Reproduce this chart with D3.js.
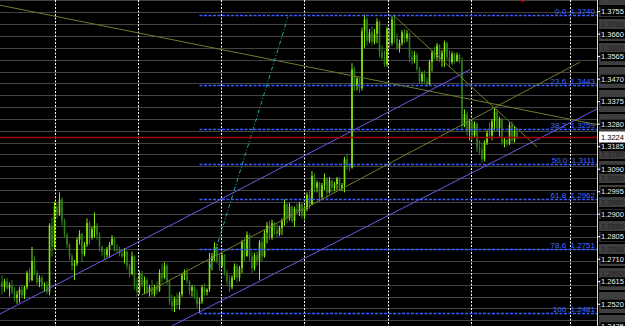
<!DOCTYPE html>
<html>
<head>
<meta charset="utf-8">
<script src="https://cdn.jsdelivr.net/npm/d3@7"></script>
<style>
html, body { margin: 0; padding: 0; background: #000; }
svg { display: block; }
</style>
</head>
<body>
<svg id="chart" width="625" height="326"></svg>
<script>
/*jslint browser: true*/

// hourly bars: [open, high, low, close]
var bars = [
    [1.2610, 1.2640, 1.2560, 1.2590], [1.2590, 1.2625, 1.2570, 1.2615], [1.2615, 1.2630, 1.2580, 1.2585],
    [1.2585, 1.2610, 1.2550, 1.2600], [1.2600, 1.2620, 1.2560, 1.2570], [1.2570, 1.2590, 1.2530, 1.2545],
    [1.2545, 1.2575, 1.2520, 1.2560], [1.2560, 1.2590, 1.2525, 1.2580], [1.2580, 1.2600, 1.2545, 1.2555],
    [1.2555, 1.2595, 1.2540, 1.2590], // 10
    [1.2590, 1.2660, 1.2580, 1.2650], [1.2650, 1.2670, 1.2610, 1.2620], [1.2620, 1.2760, 1.2615, 1.2700],
    [1.2700, 1.2720, 1.2640, 1.2650], [1.2650, 1.2660, 1.2600, 1.2610], [1.2610, 1.2640, 1.2590, 1.2630],
    [1.2630, 1.2640, 1.2580, 1.2595], [1.2595, 1.2610, 1.2570, 1.2600], [1.2600, 1.2615, 1.2560, 1.2570],
    [1.2570, 1.2860, 1.2555, 1.2850], // 20
    [1.2850, 1.2885, 1.2720, 1.2760], [1.2760, 1.2950, 1.2750, 1.2930], [1.2930, 1.2945, 1.2880, 1.2900],
    [1.2900, 1.2990, 1.2890, 1.2960], [1.2960, 1.2970, 1.2850, 1.2870], [1.2870, 1.2880, 1.2800, 1.2810],
    [1.2810, 1.2820, 1.2755, 1.2770], [1.2770, 1.2775, 1.2705, 1.2720], [1.2720, 1.2730, 1.2660, 1.2680],
    [1.2680, 1.2705, 1.2620, 1.2690], // 30
    [1.2690, 1.2800, 1.2680, 1.2790], [1.2790, 1.2830, 1.2770, 1.2815], [1.2815, 1.2820, 1.2695, 1.2730],
    [1.2730, 1.2780, 1.2720, 1.2770], [1.2770, 1.2880, 1.2760, 1.2860], [1.2860, 1.2870, 1.2770, 1.2800],
    [1.2800, 1.2845, 1.2790, 1.2835], [1.2835, 1.2905, 1.2800, 1.2850], [1.2850, 1.2860, 1.2790, 1.2810],
    [1.2810, 1.2820, 1.2740, 1.2760], // 40
    [1.2760, 1.2765, 1.2720, 1.2740], [1.2740, 1.2750, 1.2705, 1.2725], [1.2725, 1.2760, 1.2715, 1.2750],
    [1.2750, 1.2780, 1.2715, 1.2770], [1.2770, 1.2810, 1.2765, 1.2795], [1.2795, 1.2800, 1.2740, 1.2750],
    [1.2750, 1.2770, 1.2735, 1.2745], [1.2745, 1.2760, 1.2720, 1.2730], [1.2730, 1.2745, 1.2715, 1.2720],
    [1.2720, 1.2755, 1.2690, 1.2740], // 50
    [1.2740, 1.2745, 1.2665, 1.2680], [1.2680, 1.2690, 1.2630, 1.2645], [1.2645, 1.2740, 1.2640, 1.2720],
    [1.2720, 1.2725, 1.2580, 1.2600], [1.2600, 1.2630, 1.2550, 1.2570], [1.2570, 1.2660, 1.2560, 1.2650],
    [1.2650, 1.2660, 1.2590, 1.2600], [1.2600, 1.2635, 1.2560, 1.2620], [1.2620, 1.2630, 1.2560, 1.2570],
    [1.2570, 1.2600, 1.2550, 1.2590], // 60
    [1.2590, 1.2620, 1.2545, 1.2560], [1.2560, 1.2600, 1.2550, 1.2590], [1.2590, 1.2615, 1.2560, 1.2575],
    [1.2575, 1.2665, 1.2570, 1.2650], [1.2650, 1.2690, 1.2610, 1.2630], [1.2630, 1.2695, 1.2625, 1.2680],
    [1.2680, 1.2690, 1.2600, 1.2615], [1.2615, 1.2620, 1.2515, 1.2530], [1.2530, 1.2560, 1.2490, 1.2510],
    [1.2510, 1.2550, 1.2485, 1.2540], // 70
    [1.2540, 1.2565, 1.2500, 1.2515], [1.2515, 1.2570, 1.2495, 1.2560], [1.2560, 1.2650, 1.2550, 1.2640],
    [1.2640, 1.2665, 1.2620, 1.2655], [1.2655, 1.2670, 1.2605, 1.2615], [1.2615, 1.2620, 1.2560, 1.2575],
    [1.2575, 1.2600, 1.2550, 1.2590], [1.2590, 1.2595, 1.2540, 1.2550], [1.2550, 1.2580, 1.2500, 1.2520],
    [1.2520, 1.2545, 1.2481, 1.2530], // 80
    [1.2530, 1.2600, 1.2520, 1.2590], [1.2590, 1.2605, 1.2555, 1.2570], [1.2570, 1.2585, 1.2555, 1.2580],
    [1.2580, 1.2735, 1.2570, 1.2700], [1.2700, 1.2735, 1.2660, 1.2720], [1.2720, 1.2780, 1.2700, 1.2760],
    [1.2760, 1.2775, 1.2690, 1.2700], [1.2700, 1.2730, 1.2660, 1.2680], [1.2680, 1.2735, 1.2670, 1.2725],
    [1.2725, 1.2730, 1.2640, 1.2650], // 90
    [1.2650, 1.2665, 1.2600, 1.2615], [1.2615, 1.2640, 1.2570, 1.2590], [1.2590, 1.2640, 1.2580, 1.2630],
    [1.2630, 1.2690, 1.2620, 1.2680], [1.2680, 1.2690, 1.2610, 1.2630], [1.2630, 1.2680, 1.2615, 1.2670],
    [1.2670, 1.2790, 1.2650, 1.2780], [1.2780, 1.2800, 1.2700, 1.2720], [1.2720, 1.2825, 1.2720, 1.2810],
    [1.2810, 1.2815, 1.2700, 1.2720], // 100
    [1.2720, 1.2740, 1.2650, 1.2670], [1.2670, 1.2735, 1.2660, 1.2725], [1.2725, 1.2740, 1.2680, 1.2700],
    [1.2700, 1.2790, 1.2620, 1.2780], [1.2780, 1.2800, 1.2700, 1.2720], [1.2720, 1.2830, 1.2715, 1.2820],
    [1.2820, 1.2865, 1.2775, 1.2850], [1.2850, 1.2870, 1.2790, 1.2800], [1.2800, 1.2875, 1.2790, 1.2860],
    [1.2860, 1.2865, 1.2810, 1.2830], // 110
    [1.2830, 1.2855, 1.2800, 1.2815], [1.2815, 1.2850, 1.2805, 1.2840], [1.2840, 1.2880, 1.2810, 1.2870],
    [1.2870, 1.2960, 1.2850, 1.2940], [1.2940, 1.2945, 1.2860, 1.2880], [1.2880, 1.2945, 1.2870, 1.2930],
    [1.2930, 1.2935, 1.2860, 1.2870], [1.2870, 1.2930, 1.2845, 1.2920], [1.2920, 1.2945, 1.2900, 1.2910],
    [1.2910, 1.2950, 1.2890, 1.2940], // 120
    [1.2940, 1.2945, 1.2880, 1.2890], [1.2890, 1.2935, 1.2875, 1.2920], [1.2920, 1.2990, 1.2910, 1.2980],
    [1.2980, 1.3000, 1.2920, 1.2940], [1.2940, 1.3080, 1.2935, 1.3060], [1.3060, 1.3070, 1.2990, 1.3010],
    [1.3010, 1.3040, 1.2990, 1.3030], [1.3030, 1.3035, 1.2950, 1.2970], [1.2970, 1.3030, 1.2960, 1.3020],
    [1.3020, 1.3070, 1.3000, 1.3050], // 130
    [1.3050, 1.3055, 1.2960, 1.2990], [1.2990, 1.3055, 1.2985, 1.3040], [1.3040, 1.3045, 1.2990, 1.3010],
    [1.3010, 1.3035, 1.2995, 1.3025], [1.3025, 1.3055, 1.3000, 1.3050], [1.3050, 1.3055, 1.2995, 1.3010],
    [1.3010, 1.3030, 1.2995, 1.3020], [1.3020, 1.3140, 1.2990, 1.3130], [1.3130, 1.3155, 1.3085, 1.3100],
    [1.3100, 1.3110, 1.3080, 1.3095], // 140
    [1.3095, 1.3535, 1.3090, 1.3510], [1.3510, 1.3520, 1.3420, 1.3440], [1.3440, 1.3480, 1.3420, 1.3470],
    [1.3470, 1.3475, 1.3410, 1.3430], [1.3430, 1.3685, 1.3420, 1.3670], [1.3670, 1.3740, 1.3600, 1.3720],
    [1.3720, 1.3730, 1.3610, 1.3630], [1.3630, 1.3680, 1.3620, 1.3665], [1.3665, 1.3690, 1.3610, 1.3625],
    [1.3625, 1.3680, 1.3615, 1.3660], // 150
    [1.3660, 1.3725, 1.3620, 1.3710], [1.3710, 1.3715, 1.3560, 1.3580], [1.3580, 1.3610, 1.3550, 1.3560],
    [1.3560, 1.3590, 1.3520, 1.3530], [1.3530, 1.3690, 1.3520, 1.3680], [1.3680, 1.3685, 1.3600, 1.3620],
    [1.3620, 1.3735, 1.3610, 1.3720], [1.3720, 1.3740, 1.3620, 1.3640], [1.3640, 1.3660, 1.3590, 1.3600],
    [1.3600, 1.3635, 1.3580, 1.3620], // 160
    [1.3620, 1.3675, 1.3610, 1.3665], [1.3665, 1.3680, 1.3620, 1.3640], [1.3640, 1.3675, 1.3625, 1.3660],
    [1.3660, 1.3665, 1.3540, 1.3560], [1.3560, 1.3590, 1.3530, 1.3550], [1.3550, 1.3585, 1.3535, 1.3570],
    [1.3570, 1.3580, 1.3500, 1.3510], [1.3510, 1.3520, 1.3450, 1.3460], [1.3460, 1.3500, 1.3450, 1.3490],
    [1.3490, 1.3505, 1.3450, 1.3460], // 170
    [1.3460, 1.3475, 1.3435, 1.3445], [1.3445, 1.3550, 1.3440, 1.3540], [1.3540, 1.3590, 1.3500, 1.3580],
    [1.3580, 1.3605, 1.3550, 1.3560], [1.3560, 1.3620, 1.3545, 1.3610], [1.3610, 1.3615, 1.3540, 1.3550],
    [1.3550, 1.3590, 1.3520, 1.3580], [1.3580, 1.3630, 1.3520, 1.3620], [1.3620, 1.3625, 1.3550, 1.3560],
    [1.3560, 1.3590, 1.3520, 1.3540], // 180
    [1.3540, 1.3585, 1.3530, 1.3575], [1.3575, 1.3580, 1.3535, 1.3545], [1.3545, 1.3580, 1.3540, 1.3570],
    [1.3570, 1.3575, 1.3535, 1.3545], [1.3545, 1.3560, 1.3250, 1.3270], [1.3270, 1.3340, 1.3265, 1.3320],
    [1.3320, 1.3330, 1.3230, 1.3250], [1.3250, 1.3300, 1.3210, 1.3290], [1.3290, 1.3295, 1.3210, 1.3230],
    [1.3230, 1.3290, 1.3220, 1.3280], // 190
    [1.3280, 1.3285, 1.3160, 1.3180], [1.3180, 1.3210, 1.3150, 1.3170], [1.3170, 1.3200, 1.3115, 1.3130],
    [1.3130, 1.3210, 1.3120, 1.3200], [1.3200, 1.3255, 1.3190, 1.3240], [1.3240, 1.3285, 1.3220, 1.3230],
    [1.3230, 1.3300, 1.3210, 1.3290], [1.3290, 1.3345, 1.3250, 1.3330], [1.3330, 1.3340, 1.3245, 1.3260],
    [1.3260, 1.3310, 1.3225, 1.3300], // 200
    [1.3300, 1.3305, 1.3190, 1.3200], [1.3200, 1.3220, 1.3180, 1.3210], [1.3210, 1.3215, 1.3185, 1.3195],
    [1.3195, 1.3285, 1.3190, 1.3275], [1.3275, 1.3290, 1.3200, 1.3210], [1.3210, 1.3270, 1.3200, 1.3250],
    [1.3250, 1.3255, 1.3215, 1.3224]
];

var priceTicks = [1.3755, 1.3660, 1.3565, 1.3470, 1.3375, 1.3280, 1.3185, 1.3090,
                  1.2995, 1.2900, 1.2805, 1.2710, 1.2615, 1.2520, 1.2425];

var gridLevels = [1.3800, 1.3750, 1.3700, 1.3650, 1.3600, 1.3550, 1.3500, 1.3450, 1.3400, 1.3350,
                  1.3300, 1.3250, 1.3200, 1.3150, 1.3100, 1.3050, 1.3000, 1.2950, 1.2900, 1.2850,
                  1.2800, 1.2750, 1.2700, 1.2650, 1.2600, 1.2550, 1.2500, 1.2450];

var fibRatios = ['0.0', '23.6', '38.2', '50.0', '61.8', '78.6', '100'];
var fibPrices = [1.3740, 1.3443, 1.3259, 1.3111, 1.2962, 1.2751, 1.2481];
var fibStartBar = 79;

// vertical period separators, in bar units
var separatorBars = [21.2, 54.4, 87.6, 120.8, 154.4, 187.6, 227.2];

var lastPrice = 1.3224;

// drawn objects: [bar1, price1, bar2, price2]
var channelLines = [
    [-0.8, 1.2477, 187.2, 1.3508],
    [67.9, 1.2426, 238.0, 1.3342]
];
var oliveLines = [
    [-0.8, 1.3780, 238.0, 1.3276],
    [55.9, 1.2557, 231.2, 1.3540],
    [156.4, 1.3739, 214.0, 1.3182]
];
var tealLines = [
    [83.2, 1.2671, 114.4, 1.3730]
];

(function (d3) {
    'use strict';

    var W = 625, H = 326, plotRight = 597,
        bullColor = '#86e80a', bearColor = '#2f7d1c',
        fontFamily = '"Liberation Sans", Arial, sans-serif',
        fmt = d3.format('.4f');

    var x = d3.scaleLinear().domain([0, 206]).range([2, 517]);
    var y = d3.scaleLinear().domain([1.24261, 1.38020]).range([H, 0]);

    function py(p) { return Math.round(y(p)) + 0.5; }

    var svg = d3.select('#chart');
    svg.append('rect').attr('width', W).attr('height', H).attr('fill', '#000');

    svg.append('defs').append('clipPath').attr('id', 'plotclip')
        .append('rect').attr('width', plotRight).attr('height', H);

    var plot = svg.append('g').attr('clip-path', 'url(#plotclip)');

    // grey horizontal lines
    plot.selectAll('.grid')
        .data(gridLevels).enter()
      .append('line')
        .attr('class', 'grid')
        .attr('x1', 0).attr('x2', plotRight)
        .attr('y1', py).attr('y2', py)
        .style('stroke', '#444')
        .style('stroke-width', 1);

    // period separators
    plot.selectAll('.sep')
        .data(separatorBars).enter()
      .append('line')
        .attr('class', 'sep')
        .attr('x1', function (d) { return Math.round(x(d)) + 0.5; })
        .attr('x2', function (d) { return Math.round(x(d)) + 0.5; })
        .attr('y1', 0).attr('y2', H)
        .style('stroke', '#fff')
        .style('stroke-dasharray', '2,1.5');

    // candles
    var candle = plot.selectAll('.candle')
        .data(bars).enter()
      .append('g')
        .attr('class', 'candle');
    candle.append('line')
        .attr('x1', function (d, i) { return x(i); })
        .attr('x2', function (d, i) { return x(i); })
        .attr('y1', function (d) { return y(d[1]); })
        .attr('y2', function (d) { return y(d[2]); })
        .style('stroke', function (d) { return d[3] >= d[0] ? bullColor : bearColor; })
        .style('stroke-width', 1);
    candle.append('rect')
        .attr('x', function (d, i) { return x(i) - 0.8; })
        .attr('width', 1.6)
        .attr('y', function (d) { return y(Math.max(d[0], d[3])); })
        .attr('height', function (d) { return Math.max(1, Math.abs(y(d[0]) - y(d[3]))); })
        .style('fill', function (d) { return d[3] >= d[0] ? bullColor : bearColor; });

    // fibonacci retracement
    plot.selectAll('.fib')
        .data(fibPrices).enter()
      .append('line')
        .attr('class', 'fib')
        .attr('x1', x(fibStartBar)).attr('x2', plotRight)
        .attr('y1', py).attr('y2', py)
        .style('stroke', '#3a5cff')
        .style('stroke-width', 1.4)
        .style('stroke-dasharray', '3,1.5');
    plot.selectAll('.fiblabel')
        .data(fibPrices).enter()
      .append('text')
        .attr('class', 'fiblabel')
        .attr('x', plotRight - 2)
        .attr('y', function (d) { return Math.round(y(d)) - 1; })
        .attr('text-anchor', 'end')
        .style('font-family', fontFamily)
        .style('font-size', '8px')
        .style('fill', '#4068ff')
        .text(function (d, k) { return fibRatios[k] + '\u00a0\u00a0' + fmt(d); });

    function drawLines(data, cls, color, dash) {
        plot.selectAll('.' + cls)
            .data(data).enter()
          .append('line')
            .attr('class', cls)
            .attr('x1', function (d) { return x(d[0]); })
            .attr('y1', function (d) { return y(d[1]); })
            .attr('x2', function (d) { return x(d[2]); })
            .attr('y2', function (d) { return y(d[3]); })
            .style('stroke', color)
            .style('stroke-width', 1)
            .style('stroke-dasharray', dash);
    }
    drawLines(oliveLines, 'olive', '#6f7d2e', null);
    drawLines(channelLines, 'channel', '#6a5ae6', null);
    drawLines(tealLines, 'teal', '#1aa9a9', '4,2,1,2');

    // bid line
    plot.append('line')
        .attr('x1', 0).attr('x2', plotRight)
        .attr('y1', py(lastPrice)).attr('y2', py(lastPrice))
        .style('stroke', '#a00000')
        .style('stroke-width', 1.5);

    plot.append('rect')
        .attr('x', x(208)).attr('y', 0)
        .attr('width', 2).attr('height', 2)
        .style('fill', '#e00000');

    // price scale
    var scale = svg.append('g').attr('transform', 'translate(' + plotRight + ',0)');
    scale.append('line')
        .attr('x1', 0.5).attr('x2', 0.5).attr('y1', 0).attr('y2', H)
        .style('stroke', '#ddd');

    // grey level boxes; their text is left out where a scale label covers it
    function covered(p) {
        var yy = y(p);
        if (yy < 5 || yy > H - 5) { return true; }
        if (Math.abs(y(lastPrice) - yy) < 9) { return true; }
        return priceTicks.some(function (t) { return Math.abs(y(t) - yy) < 8; });
    }
    var grey = scale.selectAll('.lvl')
        .data(gridLevels).enter()
      .append('g')
        .attr('class', 'lvl')
        .attr('transform', function (d) { return 'translate(0,' + Math.round(y(d)) + ')'; });
    grey.append('rect')
        .attr('x', 2).attr('y', -5).attr('width', 26).attr('height', 10)
        .style('fill', '#3e3e3e');
    grey.filter(function (d) { return !covered(d); })
      .append('text')
        .attr('x', 4).attr('dy', '0.35em')
        .style('font-family', fontFamily)
        .style('font-size', '7.5px')
        .style('fill', '#222')
        .text(fmt);

    var axis = d3.axisRight(y)
        .tickValues(priceTicks)
        .tickSize(3)
        .tickPadding(1)
        .tickFormat(fmt);
    var ax = scale.append('g').call(axis);
    ax.select('.domain').remove();
    ax.selectAll('.tick line').style('stroke', '#fff');
    ax.selectAll('.tick').insert('rect', 'text')
        .attr('x', 3.5).attr('y', -4.5).attr('width', 25).attr('height', 9)
        .style('fill', '#000');
    ax.selectAll('.tick text')
        .style('font-family', fontFamily)
        .style('font-size', '7.5px')
        .style('fill', '#f0f0f0');

    var bid = scale.append('g')
        .attr('transform', 'translate(0,' + Math.round(y(lastPrice)) + ')');
    bid.append('rect')
        .attr('x', 2).attr('y', -5.5).attr('width', 26).attr('height', 11)
        .style('fill', '#fff');
    bid.append('text')
        .attr('x', 4).attr('dy', '0.35em')
        .style('font-family', fontFamily)
        .style('font-size', '7.5px')
        .style('fill', '#000')
        .text(fmt(lastPrice));

}(window.d3));
</script>
</body>
</html>
